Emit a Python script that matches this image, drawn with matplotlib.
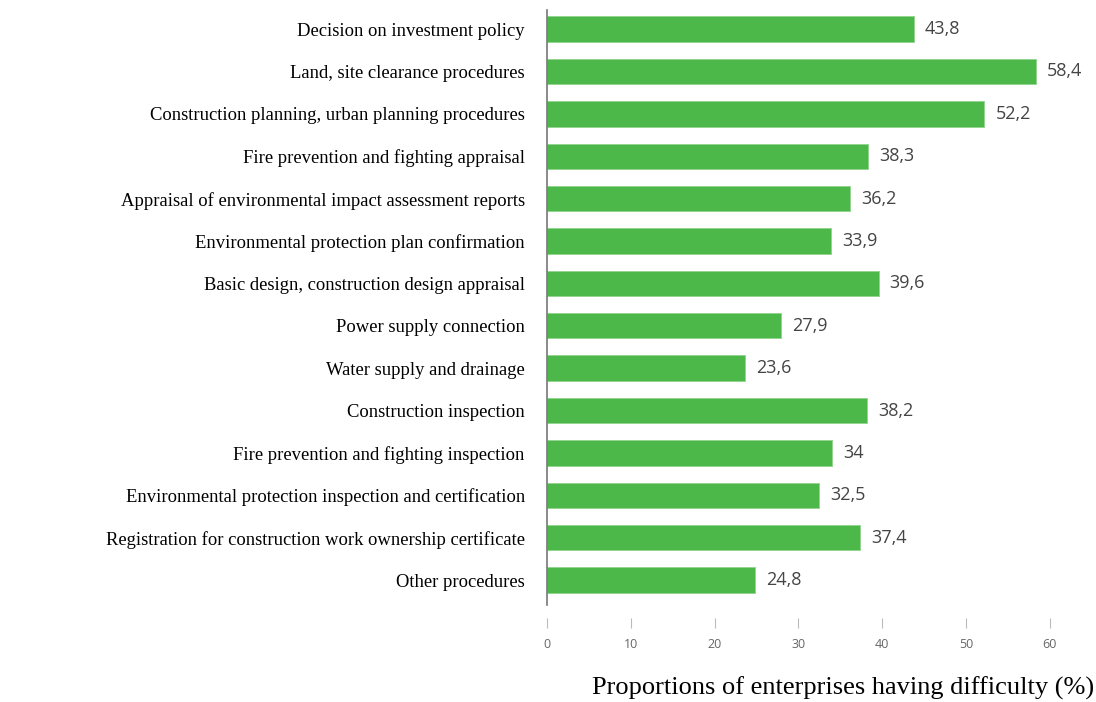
import matplotlib
matplotlib.use("Agg")
import matplotlib.pyplot as plt

procedures = [
    "Decision on investment policy",
    "Land, site clearance procedures",
    "Construction planning, urban planning procedures",
    "Fire prevention and fighting appraisal",
    "Appraisal of environmental impact assessment reports",
    "Environmental protection plan confirmation",
    "Basic design, construction design appraisal",
    "Power supply connection",
    "Water supply and drainage",
    "Construction inspection",
    "Fire prevention and fighting inspection",
    "Environmental protection inspection and certification",
    "Registration for construction work ownership certificate",
    "Other procedures",
]
share = [43.8, 58.4, 52.2, 38.3, 36.2, 33.9, 39.6, 27.9, 23.6, 38.2, 34.0, 32.5, 37.4, 24.8]
share_labels = ["43,8", "58,4", "52,2", "38,3", "36,2", "33,9", "39,6",
                "27,9", "23,6", "38,2", "34", "32,5", "37,4", "24,8"]
xticks = [0, 10, 20, 30, 40, 50, 60]

W, H = 1096, 702
fig = plt.figure(figsize=(W / 100, H / 100), dpi=100)
# axes from x=547..1054 px, y=10..628 px
ax = fig.add_axes([547 / W, 1 - 628 / H, (1054 - 547) / W, (628 - 10) / H])

ypos = list(range(len(procedures)))
ax.barh(ypos, share, height=0.6, color="#4cb84a", edgecolor="#8fd38d", linewidth=0.6)

ax.set_xlim(0, 60.5)
ax.set_ylim(14.13, -0.45)

for y, v, lab in zip(ypos, share, share_labels):
    ax.text(v + 1.3, y, lab, va="center", ha="left", fontsize=13,
            family="Open Sans", color="#444444")

ax.set_yticks(ypos)
ax.set_yticklabels(procedures, family="Liberation Serif", fontsize=13.4, color="black")
ax.tick_params(axis="y", length=0, pad=16)

ax.set_xticks(xticks)
ax.set_xticklabels([str(t) for t in xticks], family="Open Sans", fontsize=9, color="#666666")
ax.tick_params(axis="x", direction="in", length=7, width=0.8, color="#bbbbbb", pad=7)

for s in ["top", "right", "bottom"]:
    ax.spines[s].set_visible(False)
ax.spines["left"].set_color("#777777")
ax.spines["left"].set_linewidth(1.2)
ax.spines["left"].set_bounds(13.59, -0.45)

fig.text(1094 / W, 1 - 688 / H, "Proportions of enterprises having difficulty (%)",
         ha="right", va="center", family="Liberation Serif", fontsize=19)

fig.savefig("out.png", dpi=100)
